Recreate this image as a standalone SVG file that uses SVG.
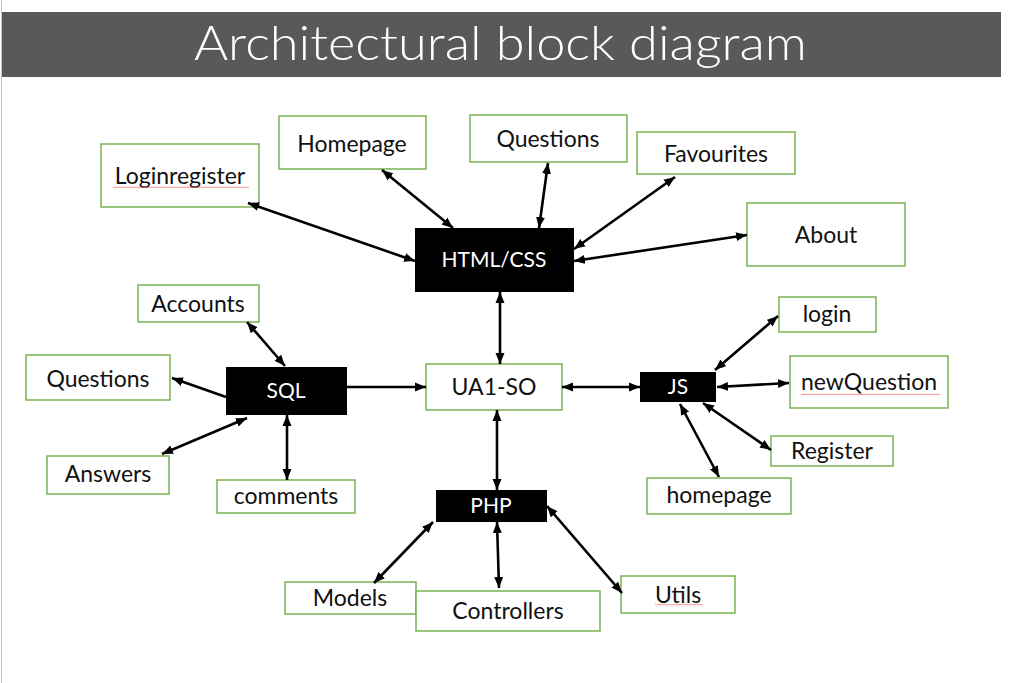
<svg xmlns="http://www.w3.org/2000/svg" width="1009" height="683" viewBox="0 0 1009 683">
<style>
.box{fill:#fff;stroke:#70ad47;stroke-width:1.4}
.dark{fill:#000}
.t{font-family:Lato,"Open Sans","Liberation Sans",sans-serif;font-size:23px;fill:#111;text-anchor:middle}
.w{font-family:Lato,"Open Sans","Liberation Sans",sans-serif;font-size:21px;fill:#fff;text-anchor:middle}
.c{stroke:#000;stroke-width:2.6;fill:none}
.sq{fill:url(#squig)}
</style>
<defs>
<marker id="ah" markerUnits="userSpaceOnUse" markerWidth="12" markerHeight="10" refX="11" refY="5" orient="auto-start-reverse">
<path d="M0,0.5 L11,5 L0,9.5 z" fill="#000"/>
</marker>
<pattern id="squig" width="4" height="3" patternUnits="userSpaceOnUse">
<path d="M0,2.2 L1,0.8 L2,2.2 L3,0.8 L4,2.2" fill="none" stroke="#f06a6a" stroke-width="0.6"/>
</pattern>
</defs>
<rect width="1009" height="683" fill="#fff"/>
<line x1="1.5" y1="0" x2="1.5" y2="683" stroke="#c8c8c8" stroke-width="1"/>
<g id="title">
<rect x="2" y="12" width="999" height="65" fill="#595959"/>
<text x="194" y="60" textLength="613" lengthAdjust="spacingAndGlyphs" font-family="Lato,'Open Sans','Liberation Sans',sans-serif" font-weight="300" font-size="48" fill="#fff">Architectural block diagram</text>
</g>
<g id="loginregister"><rect class="box" x="101" y="144" width="158" height="63"/><text class="t" x="180" y="184">Loginregister</text><rect class="sq" x="113" y="185" width="136" height="3"/></g>
<g id="homepage"><rect class="box" x="279" y="116" width="147" height="53"/><text class="t" x="352" y="152">Homepage</text></g>
<g id="questions-html"><rect class="box" x="470" y="115" width="157" height="47"/><text class="t" x="548" y="147">Questions</text></g>
<g id="favourites"><rect class="box" x="637" y="132" width="158" height="42"/><text class="t" x="716" y="162">Favourites</text></g>
<g id="about"><rect class="box" x="747" y="203" width="158" height="63"/><text class="t" x="826" y="243">About</text></g>
<g id="htmlcss"><rect class="dark" x="415" y="228" width="159" height="64"/><text class="w" x="494" y="267">HTML/CSS</text></g>
<g id="accounts"><rect class="box" x="138" y="285" width="121" height="37"/><text class="t" x="198" y="312">Accounts</text></g>
<g id="questions-sql"><rect class="box" x="26" y="355" width="144" height="45"/><text class="t" x="98" y="387">Questions</text></g>
<g id="sql"><rect class="dark" x="226" y="367" width="121" height="48"/><text class="w" x="286" y="398">SQL</text></g>
<g id="answers"><rect class="box" x="47" y="456" width="122" height="38"/><text class="t" x="108" y="482">Answers</text></g>
<g id="comments"><rect class="box" x="217" y="480" width="138" height="33"/><text class="t" x="286" y="504">comments</text></g>
<g id="ua1so"><rect class="box" x="426" y="364" width="136" height="46"/><text class="t" x="494" y="395">UA1-SO</text></g>
<g id="js"><rect class="dark" x="640" y="372" width="76" height="30"/><text class="w" x="678" y="394">JS</text></g>
<g id="login"><rect class="box" x="779" y="297" width="97" height="35"/><text class="t" x="827" y="322">login</text></g>
<g id="newquestion"><rect class="box" x="790" y="356" width="158" height="52"/><text class="t" x="869" y="390">newQuestion</text><rect class="sq" x="801" y="393" width="139" height="3"/></g>
<g id="register"><rect class="box" x="771" y="436" width="122" height="30"/><text class="t" x="832" y="459">Register</text></g>
<g id="homepage-js"><rect class="box" x="647" y="478" width="144" height="36"/><text class="t" x="719" y="503">homepage</text></g>
<g id="php"><rect class="dark" x="436" y="490" width="111" height="32"/><text class="w" x="491" y="513">PHP</text></g>
<g id="models"><rect class="box" x="285" y="582" width="131" height="32"/><text class="t" x="350" y="606">Models</text></g>
<g id="controllers"><rect class="box" x="416" y="591" width="184" height="40"/><text class="t" x="508" y="619">Controllers</text></g>
<g id="utils"><rect class="box" x="621" y="576" width="114" height="37"/><text class="t" x="678" y="603">Utils</text><rect class="sq" x="655" y="604" width="48" height="3"/></g>
<g id="connectors">
<line class="c" x1="415" y1="261" x2="248" y2="203" marker-start="url(#ah)" marker-end="url(#ah)"/>
<line class="c" x1="453" y1="228" x2="382" y2="170" marker-start="url(#ah)" marker-end="url(#ah)"/>
<line class="c" x1="539" y1="228" x2="548" y2="163" marker-start="url(#ah)" marker-end="url(#ah)"/>
<line class="c" x1="574" y1="249" x2="675" y2="177" marker-start="url(#ah)" marker-end="url(#ah)"/>
<line class="c" x1="574" y1="261" x2="747" y2="235" marker-start="url(#ah)" marker-end="url(#ah)"/>
<line class="c" x1="500" y1="292" x2="500" y2="364" marker-start="url(#ah)" marker-end="url(#ah)"/>
<line class="c" x1="285" y1="366" x2="247" y2="322" marker-start="url(#ah)" marker-end="url(#ah)"/>
<line class="c" x1="226" y1="397" x2="172" y2="378" marker-end="url(#ah)"/>
<line class="c" x1="247" y1="418" x2="162" y2="454" marker-start="url(#ah)" marker-end="url(#ah)"/>
<line class="c" x1="287" y1="415" x2="287" y2="480" marker-start="url(#ah)" marker-end="url(#ah)"/>
<line class="c" x1="347" y1="387" x2="426" y2="387" marker-end="url(#ah)"/>
<line class="c" x1="562" y1="387" x2="640" y2="387" marker-start="url(#ah)" marker-end="url(#ah)"/>
<line class="c" x1="497" y1="490" x2="497" y2="410" marker-start="url(#ah)" marker-end="url(#ah)"/>
<line class="c" x1="715" y1="370" x2="778" y2="316" marker-start="url(#ah)" marker-end="url(#ah)"/>
<line class="c" x1="717" y1="387" x2="789" y2="383" marker-start="url(#ah)" marker-end="url(#ah)"/>
<line class="c" x1="703" y1="403" x2="771" y2="450" marker-start="url(#ah)" marker-end="url(#ah)"/>
<line class="c" x1="680" y1="404" x2="719" y2="477" marker-start="url(#ah)" marker-end="url(#ah)"/>
<line class="c" x1="433" y1="522" x2="374" y2="583" marker-start="url(#ah)" marker-end="url(#ah)"/>
<line class="c" x1="497" y1="522" x2="499" y2="588" marker-start="url(#ah)" marker-end="url(#ah)"/>
<line class="c" x1="547" y1="506" x2="622" y2="593" marker-start="url(#ah)" marker-end="url(#ah)"/>
</g>
</svg>
